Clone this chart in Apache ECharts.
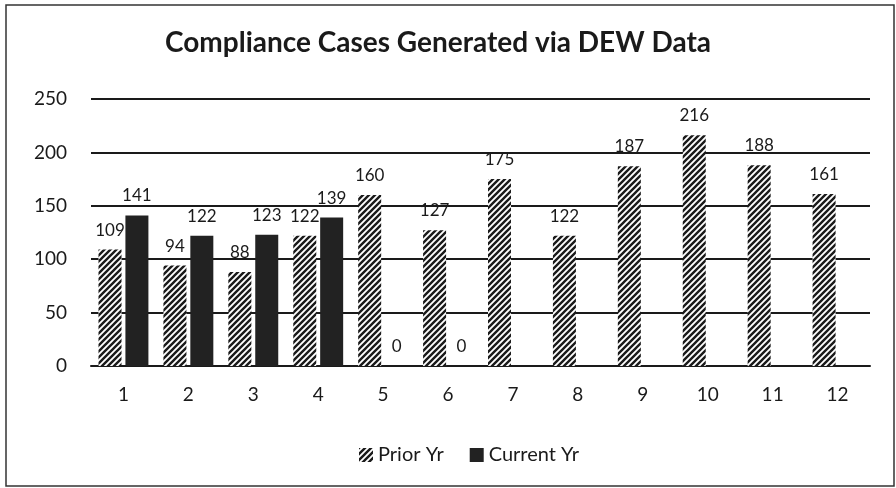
<!DOCTYPE html>
<html><head><meta charset="utf-8">
<script src="https://cdn.jsdelivr.net/npm/echarts@6/dist/echarts.min.js"></script>
<style>html,body{margin:0;padding:0;background:#fff}#c{width:896px;height:488px}</style>
</head><body><div id="c"></div>
<script>
const months = ['1','2','3','4','5','6','7','8','9','10','11','12'];
const priorYr = [109, 94, 88, 122, 160, 127, 175, 122, 187, 216, 188, 161];
const currentYr = [141, 122, 123, 139, 0, 0, null, null, null, null, null, null];
const yTicks = {min: 0, max: 250, interval: 50};

function hatch(){
  const c = document.createElement('canvas');
  c.width = 6; c.height = 6;
  const g = c.getContext('2d');
  g.fillStyle = '#fff'; g.fillRect(0,0,6,6);
  g.strokeStyle = '#1a1a1a'; g.lineWidth = 2.4;
  g.beginPath();
  g.moveTo(-3,3); g.lineTo(3,-3);
  g.moveTo(0,6); g.lineTo(6,0);
  g.moveTo(3,9); g.lineTo(9,3);
  g.stroke();
  return c;
}
const pat = {image: hatch(), repeat: 'repeat'};
const font = 'Lato, "Open Sans", sans-serif';

const chart = echarts.init(document.getElementById('c'));
chart.setOption({
  backgroundColor: '#fff',
  animation: false,
  title: {text: 'Compliance Cases Generated via DEW Data', left: 160, top: 24,
    textStyle: {fontFamily: font, fontSize: 28, fontWeight: 'bold', color: '#1a1a1a'}},
  graphic: [{type: 'rect', shape: {x: 6, y: 5, width: 888, height: 481}, style: {fill: 'none', stroke: '#333', lineWidth: 1.5}}],
  legend: {top: 440, left: 354, itemWidth: 14, itemHeight: 14, itemGap: 26,
    textStyle: {fontFamily: font, fontSize: 20, color: '#1a1a1a'},
    data: [{name: 'Prior Yr', icon: 'rect'}, {name: 'Current Yr', icon: 'rect'}]},
  grid: {left: 91, right: 26, top: 99, bottom: 122},
  xAxis: {type: 'category', data: months,
    axisLine: {lineStyle: {color: '#1a1a1a', width: 2}}, axisTick: {show: false},
    axisLabel: {fontFamily: font, fontSize: 19, color: '#1a1a1a', margin: 19}},
  yAxis: {type: 'value', min: yTicks.min, max: yTicks.max, interval: yTicks.interval,
    axisLine: {show: false}, axisTick: {show: false},
    splitLine: {lineStyle: {color: '#1a1a1a', width: 2}},
    axisLabel: {fontFamily: font, fontSize: 19, color: '#1a1a1a', margin: 24}},
  series: [
    {name: 'Prior Yr', type: 'bar', data: priorYr, barWidth: 23, barGap: '17%',
      itemStyle: {color: pat},
      label: {show: true, position: 'top', distance: 11, fontFamily: font, fontSize: 17, color: '#1a1a1a'}},
    {name: 'Current Yr', type: 'bar', barWidth: 23, data: currentYr,
      itemStyle: {color: '#222'},
      label: {show: true, position: 'top', distance: 11, fontFamily: font, fontSize: 17, color: '#1a1a1a'}}
  ]
});
</script></body></html>
